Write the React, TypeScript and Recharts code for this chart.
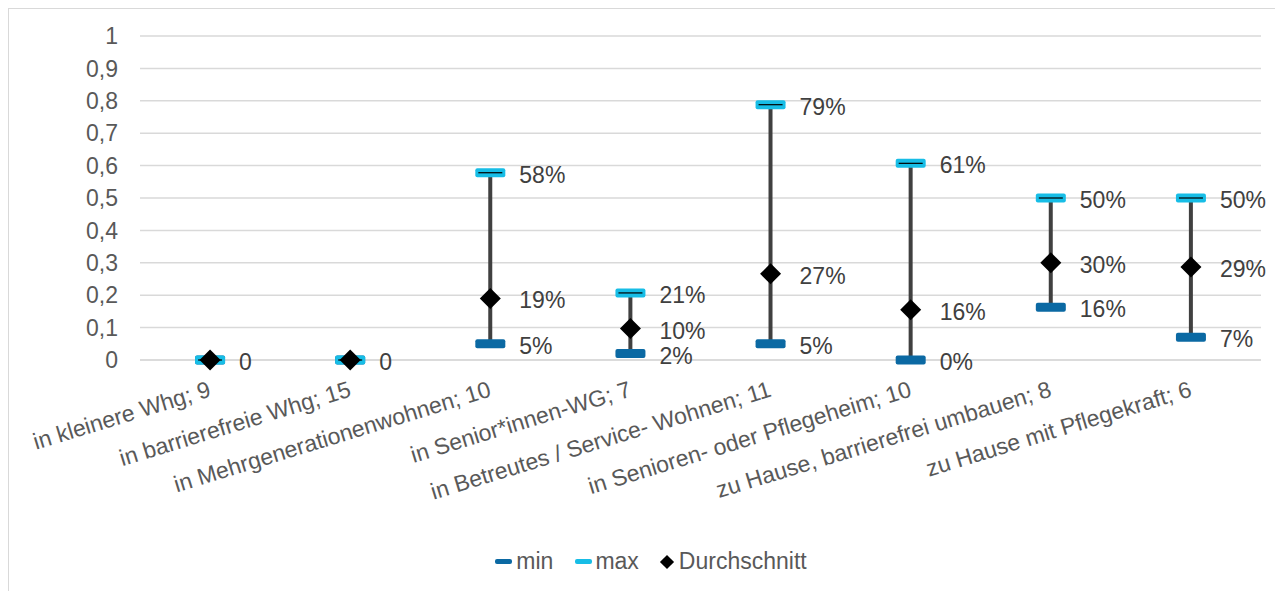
import { ComposedChart, Bar, Line, XAxis, YAxis, CartesianGrid, LabelList } from "recharts";

const categories = [
  "in kleinere Whg; 9",
  "in barrierefreie Whg; 15",
  "in Mehrgenerationenwohnen; 10",
  "in Senior*innen-WG; 7",
  "in Betreutes / Service- Wohnen; 11",
  "in Senioren- oder Pflegeheim; 10",
  "zu Hause, barrierefrei umbauen; 8",
  "zu Hause mit Pflegekraft; 6",
];
const minValues = [0, 0, 0.05, 0.02, 0.05, 0, 0.163, 0.07];
const maxValues = [0, 0, 0.578, 0.207, 0.788, 0.607, 0.5, 0.5];
const avgValues = [0, 0, 0.19, 0.097, 0.266, 0.155, 0.3, 0.287];
const minLabels = ["", "", "5%", "2%", "5%", "0%", "16%", "7%"];
const maxLabels = ["", "", "58%", "21%", "79%", "61%", "50%", "50%"];
const avgLabels = ["0", "0", "19%", "10%", "27%", "16%", "30%", "29%"];
const yTicks = [0, 0.1, 0.2, 0.3, 0.4, 0.5, 0.6, 0.7, 0.8, 0.9, 1];

const MIN_COLOR = "#0b69a3";
const MAX_COLOR = "#17bde6";
const FONT = "'Liberation Sans', Arial, sans-serif";

const data = categories.map((name, i) => ({
  name,
  min: minValues[i],
  max: maxValues[i],
  avg: avgValues[i],
  range: [minValues[i], maxValues[i]],
  minLabel: minLabels[i],
  maxLabel: maxLabels[i],
  avgLabel: avgLabels[i],
}));

// vertical high-low line
const HighLow = (props: any) => {
  const { x, y, width, height } = props;
  if (x == null || y == null) return null;
  const top = Math.min(y, y + height);
  const h = Math.abs(height);
  if (h < 0.5) return null;
  return <rect x={x + width / 2 - 2} y={top} width={4} height={h} fill="#404040" />;
};

const MinDot = (props: any) => {
  const { cx, cy, index } = props;
  return <rect key={`min-${index}`} x={cx - 15} y={cy - 4.5} width={30} height={9} rx={2} fill={MIN_COLOR} />;
};

const MaxDot = (props: any) => {
  const { cx, cy, index } = props;
  return (
    <g key={`max-${index}`}>
      <rect x={cx - 15} y={cy - 4.5} width={30} height={9} rx={2} fill={MAX_COLOR} />
      <line x1={cx - 12} x2={cx + 12} y1={cy} y2={cy} stroke="#000" strokeWidth={1.2} />
    </g>
  );
};

const AvgDot = (props: any) => {
  const { cx, cy, index } = props;
  return (
    <path
      key={`avg-${index}`}
      d={`M${cx},${cy - 10.5} L${cx + 10.5},${cy} L${cx},${cy + 10.5} L${cx - 10.5},${cy} Z`}
      fill="#000"
    />
  );
};

const renderLabel = (props: any) => {
  const { x, y, value } = props;
  if (!value) return null;
  return (
    <text x={x + 29} y={y + 2} dominantBaseline="central" fontSize={23} fontFamily={FONT} fill="#404040">
      {value}
    </text>
  );
};

const CategoryTick = (props: any) => {
  const { x, y, payload } = props;
  const tx = x + 2;
  const ty = y + 36;
  return (
    <text
      x={tx}
      y={ty}
      textAnchor="end"
      transform={`rotate(-17, ${tx}, ${ty})`}
      fontSize={23}
      fontFamily={FONT}
      fill="#595959"
    >
      {payload.value}
    </text>
  );
};

const legendText = { fontSize: 23, fontFamily: FONT, color: "#595959" };

export default function App() {
  return (
    <div
      style={{
        position: "relative",
        width: 1268,
        height: 590,
        boxSizing: "border-box",
        border: "1px solid #d9d9d9",
        background: "#fff",
      }}
    >
      <ComposedChart width={1266} height={580} data={data} margin={{ top: 27, right: 14, left: 0, bottom: 0 }}>
        <CartesianGrid vertical={false} stroke="#d9d9d9" strokeWidth={1.5} />
        <XAxis
          dataKey="name"
          interval={0}
          tickLine={false}
          tickSize={0}
          tickMargin={0}
          axisLine={{ stroke: "#d9d9d9", strokeWidth: 1.5 }}
          height={229}
          tick={<CategoryTick />}
        />
        <YAxis
          domain={[0, 1]}
          ticks={yTicks}
          width={131}
          axisLine={false}
          tickLine={false}
          tickSize={0}
          tickMargin={22}
          tick={{ fontSize: 23, fontFamily: FONT, fill: "#595959" }}
          tickFormatter={(v: number) => String(v).replace(".", ",")}
        />
        <Bar dataKey="range" shape={<HighLow />} isAnimationActive={false} />
        <Line dataKey="min" stroke="none" dot={MinDot} activeDot={false} isAnimationActive={false}>
          <LabelList dataKey="minLabel" content={renderLabel} />
        </Line>
        <Line dataKey="max" stroke="none" dot={MaxDot} activeDot={false} isAnimationActive={false}>
          <LabelList dataKey="maxLabel" content={renderLabel} />
        </Line>
        <Line dataKey="avg" stroke="none" dot={AvgDot} activeDot={false} isAnimationActive={false}>
          <LabelList dataKey="avgLabel" content={renderLabel} />
        </Line>
      </ComposedChart>
      <div
        style={{
          position: "absolute",
          top: 539,
          left: 0,
          width: 1266,
          display: "flex",
          justifyContent: "center",
          alignItems: "center",
          paddingLeft: 18,
          boxSizing: "border-box",
        }}
      >
        <span style={{ display: "inline-block", width: 17, height: 5, borderRadius: 2, background: MIN_COLOR, marginRight: 4 }} />
        <span style={legendText}>min</span>
        <span style={{ display: "inline-block", width: 17, height: 5, borderRadius: 2, background: MAX_COLOR, marginLeft: 22, marginRight: 3 }} />
        <span style={legendText}>max</span>
        <span style={{ display: "inline-block", width: 10, height: 10, background: "#000", transform: "rotate(45deg)", marginLeft: 23, marginRight: 7 }} />
        <span style={legendText}>Durchschnitt</span>
      </div>
    </div>
  );
}
